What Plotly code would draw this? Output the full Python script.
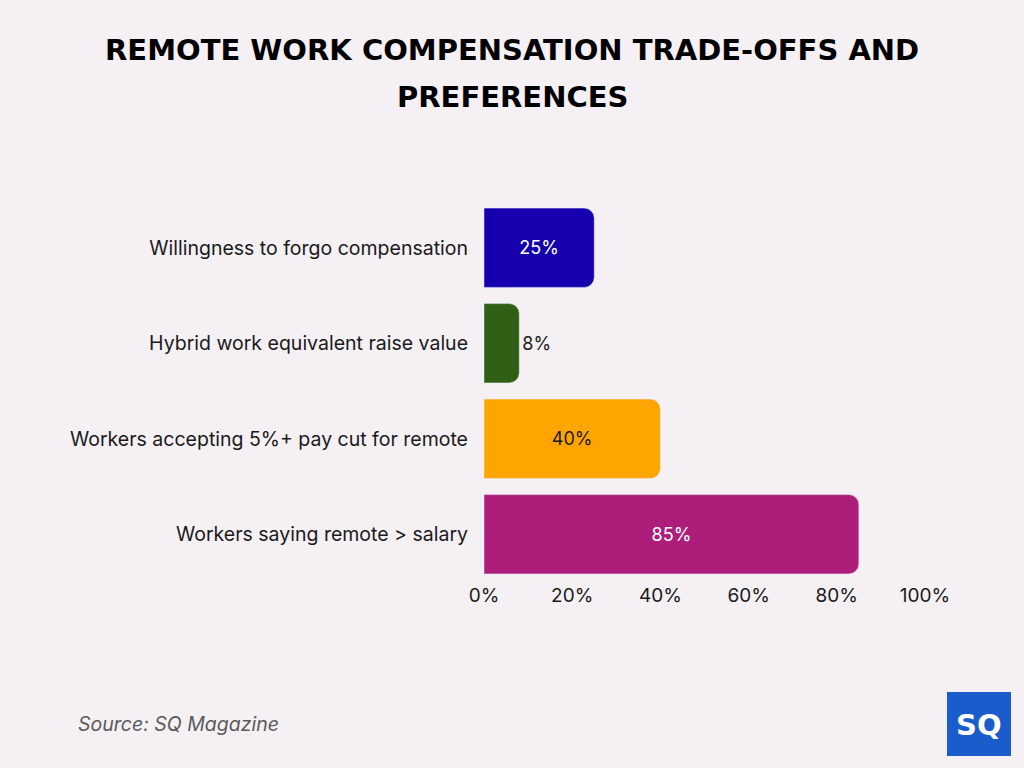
import plotly.graph_objects as go

categories = [
    "Willingness to forgo compensation",
    "Hybrid work equivalent raise value",
    "Workers accepting 5%+ pay cut for remote",
    "Workers saying remote > salary",
]
values = [25, 8, 40, 85]
bar_colors = ["#1600AE", "#2F5F15", "#FFA500", "#AD1E7B"]
text_colors = ["#FFFFFF", "#1a1a1a", "#1a1a1a", "#FFFFFF"]
text_positions = ["inside", "outside", "inside", "inside"]
tick_values = [0, 20, 40, 60, 80, 100]
tick_labels = ["0%", "20%", "40%", "60%", "80%", "100%"]

# plot area in pixels
L, R, T, B = 484, 925, 200, 582
PW, PH = R - L, B - T


def px(x):
    return (x - L) / PW


def py(y):
    return (B - y) / PH


fig = go.Figure(
    go.Bar(
        x=values,
        y=categories,
        orientation="h",
        marker=dict(color=bar_colors, cornerradius=10),
        width=0.83,
        text=[f"{v}%" for v in values],
        textposition=text_positions,
        insidetextanchor="middle",
        textfont=dict(family="Inter, Roboto, sans-serif", size=18, color=text_colors),
        outsidetextfont=dict(family="Inter, Roboto, sans-serif", size=18, color="#1a1a1a"),
        cliponaxis=False,
        hoverinfo="skip",
    )
)

title_font = dict(family="DejaVu Sans, sans-serif", size=29, color="#000000", weight=900)

fig.update_layout(
    width=1024,
    height=768,
    paper_bgcolor="#f5f0f4",
    plot_bgcolor="rgba(0,0,0,0)",
    margin=dict(l=L, r=1024 - R, t=T, b=768 - B),
    showlegend=False,
    xaxis=dict(
        range=[0, 100],
        tickvals=tick_values,
        ticktext=tick_labels,
        showgrid=False,
        zeroline=False,
        showline=False,
        tickfont=dict(family="Inter, Roboto, sans-serif", size=19, color="#1a1a1a"),
        fixedrange=True,
    ),
    yaxis=dict(
        categoryorder="array",
        categoryarray=categories[::-1],
        range=[-0.5, 3.5],
        showgrid=False,
        zeroline=False,
        showline=False,
        ticks="",
        ticklabelstandoff=15,
        tickfont=dict(family="Inter, Roboto, sans-serif", size=19.5, color="#1a1a1a"),
        fixedrange=True,
    ),
    annotations=[
        dict(
            text="<b>REMOTE WORK COMPENSATION TRADE-OFFS AND</b>",
            xref="paper", yref="paper",
            x=px(512), y=py(50),
            xanchor="center", yanchor="middle",
            showarrow=False,
            font=title_font,
        ),
        dict(
            text="<b>PREFERENCES</b>",
            xref="paper", yref="paper",
            x=px(512), y=py(97),
            xanchor="center", yanchor="middle",
            showarrow=False,
            font=title_font,
        ),
        dict(
            text="Source: SQ Magazine",
            xref="paper", yref="paper",
            x=px(76), y=py(724),
            xanchor="left", yanchor="middle",
            showarrow=False,
            font=dict(family="Inter, Roboto, sans-serif", size=19.5, color="#5a5a5a", style="italic"),
        ),
        dict(
            text="<b>SQ</b>",
            xref="paper", yref="paper",
            x=px(979), y=py(725),
            xanchor="center", yanchor="middle",
            showarrow=False,
            font=dict(family="DejaVu Sans, sans-serif", size=29, color="#FFFFFF"),
        ),
    ],
    shapes=[
        dict(
            type="rect",
            xref="paper", yref="paper",
            x0=px(947), x1=px(1011),
            y0=py(756), y1=py(692),
            fillcolor="#1b5ccc",
            line=dict(width=0),
            layer="above",
        )
    ],
)

fig.write_html(
    "out.html",
    config={"displayModeBar": False},
    post_script="document.body.style.margin='0';document.body.style.background='#f5f0f4';",
)
